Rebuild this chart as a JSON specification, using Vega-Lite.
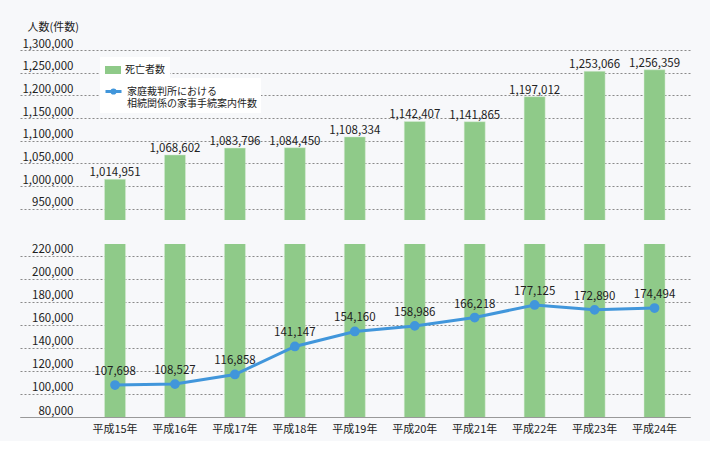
{
  "$schema": "https://vega.github.io/schema/vega-lite/v6.json",
  "background": "#f7f8fa",
  "padding": {"left": 20, "top": 21, "right": 20, "bottom": 7},
  "config": {
    "view": {"stroke": null},
    "font": "Noto Sans CJK JP",
    "axis": {"labelFont": "Noto Sans CJK JP", "titleFont": "Noto Sans CJK JP", "labelColor": "#222", "titleColor": "#222", "labelOverlap": false},
    "legend": {"labelFont": "Noto Sans CJK JP"}
  },
  "data": {"values": [
    {"year": "平成15年", "deaths": 1014951, "cases": 107698},
    {"year": "平成16年", "deaths": 1068602, "cases": 108527},
    {"year": "平成17年", "deaths": 1083796, "cases": 116858},
    {"year": "平成18年", "deaths": 1084450, "cases": 141147},
    {"year": "平成19年", "deaths": 1108334, "cases": 154160},
    {"year": "平成20年", "deaths": 1142407, "cases": 158986},
    {"year": "平成21年", "deaths": 1141865, "cases": 166218},
    {"year": "平成22年", "deaths": 1197012, "cases": 177125},
    {"year": "平成23年", "deaths": 1253066, "cases": 172890},
    {"year": "平成24年", "deaths": 1256359, "cases": 174494}
  ]},
  "spacing": 23,
  "vconcat": [
    {
      "width": 670,
      "height": 170,
      "layer": [
        {
          "mark": {"type": "bar", "clip": true, "stroke": "#d8ecd6", "strokeWidth": 0.5},
          "encoding": {
            "x": {"field": "year", "type": "nominal", "sort": null, "axis": null,
                  "scale": {"paddingInner": 0.649, "paddingOuter": 0.913, "align": 0.772}},
            "y": {"field": "deaths", "type": "quantitative",
                  "scale": {"domain": [925000, 1300000], "nice": false, "zero": false},
                  "axis": {"values": [950000, 1000000, 1050000, 1100000, 1150000, 1200000, 1250000, 1300000],
                           "tickCount": 20,
                           "format": ",d", "domain": false, "ticks": false, "labelOverlap": false,
                           "grid": true, "gridDash": [2, 2], "gridColor": "#8a8a8a", "gridWidth": 1,
                           "labelPadding": -53, "labelAlign": "right", "labelBaseline": "alphabetic", "labelOffset": -3,
                           "labelFontSize": 11.5,
                           "title": "人数(件数)", "titleAngle": 0, "titleAlign": "left", "titleBaseline": "middle",
                           "titleX": 7, "titleY": -23, "titleFontSize": 11, "titleFontWeight": "normal"}},
            "fill": {"datum": "死亡者数", "type": "nominal",
                     "scale": {"domain": ["死亡者数"], "range": ["#8fca89"]},
                     "legend": {"orient": "none", "legendX": 80, "legendY": 7, "title": null,
                                "fillColor": "#ffffff", "padding": 5,
                                "labelFontSize": 10, "labelColor": "#222",
                                "symbolType": "M-1,-0.5L1,-0.5L1,0.5L-1,0.5Z", "symbolSize": 256,
                                "symbolStrokeWidth": 0, "symbolOpacity": 1}}
          }
        },
        {
          "mark": {"type": "text", "baseline": "alphabetic", "dy": -3, "fontSize": 11.5, "color": "#222"},
          "encoding": {
            "x": {"field": "year", "type": "nominal", "sort": null},
            "y": {"field": "deaths", "type": "quantitative"},
            "text": {"field": "deaths", "type": "quantitative", "format": ",d"}
          }
        }
      ]
    },
    {
      "width": 670,
      "height": 173,
      "layer": [
        {
          "mark": {"type": "bar", "clip": true, "stroke": "#d8ecd6", "strokeWidth": 0.5},
          "encoding": {
            "x": {"field": "year", "type": "nominal", "sort": null,
                  "scale": {"paddingInner": 0.649, "paddingOuter": 0.913, "align": 0.772},
                  "axis": {"title": null, "labelAngle": 0, "ticks": false, "domainColor": "#999", "domainWidth": 1,
                           "labelPadding": 6, "labelFontSize": 11, "labelColor": "#222"}},
            "y": {"field": "deaths", "type": "quantitative",
                  "scale": {"domain": [80000, 230000], "nice": false, "zero": false},
                  "axis": {"values": [80000, 100000, 120000, 140000, 160000, 180000, 200000, 220000],
                           "tickCount": 20,
                           "format": ",d", "domain": false, "ticks": false, "title": null, "labelOverlap": false,
                           "grid": true, "gridDash": [2, 2], "gridColor": "#8a8a8a", "gridWidth": 1,
                           "labelPadding": -53, "labelAlign": "right", "labelBaseline": "alphabetic", "labelOffset": -3,
                           "labelFontSize": 11.5}},
            "fill": {"datum": "死亡者数", "type": "nominal", "legend": null}
          }
        },
        {
          "mark": {"type": "line", "strokeWidth": 3, "point": {"filled": true, "fill": "#4196db", "size": 60}},
          "encoding": {
            "x": {"field": "year", "type": "nominal", "sort": null},
            "y": {"field": "cases", "type": "quantitative"},
            "stroke": {"datum": "家庭裁判所における相続関係の家事手続案内件数", "type": "nominal",
                       "scale": {"domain": ["家庭裁判所における相続関係の家事手続案内件数"], "range": ["#4196db"]},
                       "legend": {"orient": "none", "legendX": 80, "legendY": 28, "title": null,
                                  "fillColor": "#ffffff", "padding": 4,
                                  "labelFontSize": 10, "labelColor": "#222", "labelLimit": 220,
                                  "labelExpr": "['家庭裁判所における', '相続関係の家事手続案内件数']",
                                  "symbolType": "M-1,0L1,0M0.2,0A0.2,0.2 0 1,1 -0.2,0A0.2,0.2 0 1,1 0.2,0",
                                  "symbolSize": 256, "symbolStrokeWidth": 3, "symbolOpacity": 1,
                                  "symbolFillColor": "#4196db"}}
          }
        },
        {
          "mark": {"type": "text", "baseline": "alphabetic", "dy": -10, "fontSize": 11.5, "color": "#222"},
          "encoding": {
            "x": {"field": "year", "type": "nominal", "sort": null},
            "y": {"field": "cases", "type": "quantitative"},
            "text": {"field": "cases", "type": "quantitative", "format": ",d"}
          }
        }
      ]
    }
  ]
}
